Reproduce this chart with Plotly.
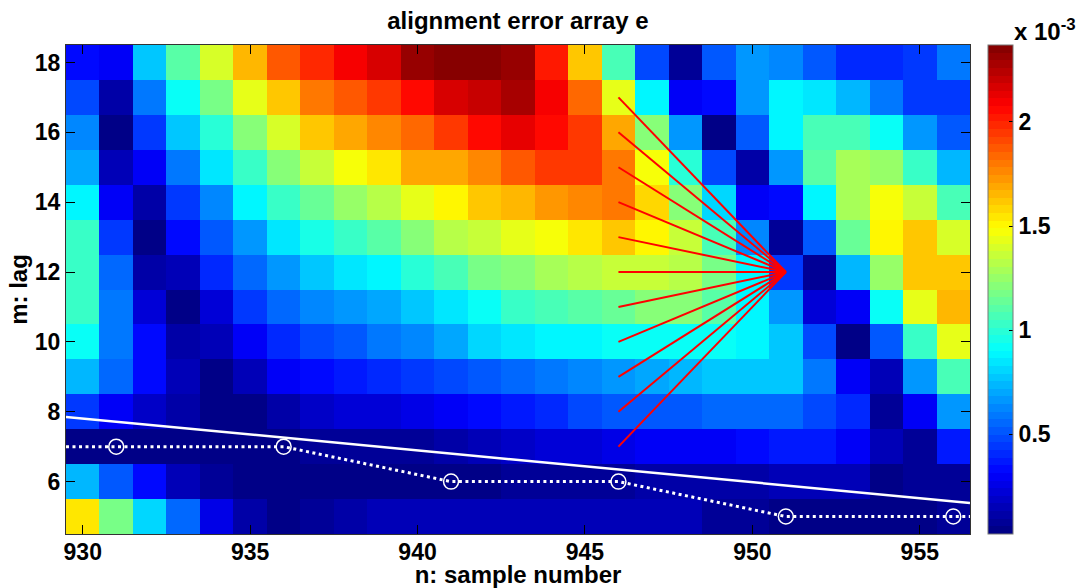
import plotly.graph_objects as go

W, H = 1078, 588
sample_n = list(range(930, 957))
lag_m = list(range(5, 19))

# error values, in units of 1e-3, one list per lag
lag_05 = [1.54,1.19,0.81,0.55,0.26,0.12,0.05,0.09,0.13,0.15,0.16,0.16,0.15,0.15,0.15,0.15,0.15,0.15,0.15,0.09,0.06,0.05,0.05,0.04,0.04,0.05,0.08]
lag_06 = [0.74,0.52,0.33,0.16,0.07,0.05,0.04,0.045,0.045,0.04,0.04,0.045,0.05,0.06,0.08,0.09,0.09,0.12,0.12,0.12,0.13,0.15,0.16,0.15,0.05,0.08,0.09]
lag_07 = [0.03,0.03,0.04,0.05,0.05,0.05,0.05,0.06,0.07,0.09,0.09,0.12,0.15,0.18,0.22,0.24,0.26,0.28,0.30,0.31,0.33,0.37,0.37,0.31,0.15,0.07,0.37]
lag_08 = [0.44,0.30,0.18,0.12,0.05,0.03,0.12,0.18,0.22,0.22,0.26,0.30,0.33,0.37,0.40,0.48,0.52,0.52,0.52,0.55,0.55,0.55,0.48,0.40,0.08,0.30,0.66]
lag_09 = [0.74,0.55,0.33,0.15,0.05,0.15,0.30,0.33,0.37,0.40,0.44,0.48,0.52,0.55,0.59,0.62,0.66,0.70,0.74,0.78,0.78,0.78,0.59,0.30,0.15,0.66,1.07]
lag_10 = [0.93,0.59,0.33,0.12,0.15,0.30,0.40,0.48,0.52,0.59,0.62,0.70,0.81,0.85,0.89,0.89,0.93,0.93,0.93,0.93,0.89,0.78,0.48,0.03,0.52,1.04,1.44]
lag_11 = [1.04,0.59,0.22,0.03,0.22,0.44,0.55,0.62,0.66,0.70,0.78,0.85,0.93,1.04,1.07,1.11,1.15,1.22,1.22,1.11,0.89,0.66,0.22,0.30,0.93,1.44,1.67]
lag_12 = [1.04,0.55,0.13,0.15,0.40,0.55,0.68,0.78,0.85,0.89,1.00,1.07,1.19,1.22,1.30,1.33,1.37,1.37,1.33,1.19,0.89,0.44,0.08,0.74,1.26,1.63,1.63]
lag_13 = [1.04,0.44,0.03,0.33,0.52,0.68,0.85,0.96,1.04,1.11,1.22,1.33,1.37,1.44,1.48,1.56,1.60,1.52,1.37,1.07,0.62,0.07,0.52,1.15,1.52,1.60,1.41]
lag_14 = [0.89,0.30,0.12,0.44,0.62,0.89,1.04,1.15,1.26,1.33,1.44,1.52,1.60,1.67,1.74,1.78,1.80,1.57,1.22,0.81,0.30,0.33,0.89,1.30,1.48,1.37,1.07]
lag_15 = [0.70,0.15,0.30,0.59,0.85,1.04,1.22,1.37,1.48,1.56,1.68,1.70,1.78,1.89,1.93,1.93,1.80,1.48,1.00,0.48,0.12,0.68,1.11,1.30,1.26,1.04,0.74]
lag_16 = [0.63,0.03,0.44,0.78,1.00,1.22,1.41,1.60,1.70,1.78,1.85,1.93,2.04,2.13,2.07,1.96,1.68,1.22,0.66,0.05,0.52,0.89,1.07,1.07,0.93,0.68,0.52]
lag_17 = [0.48,0.12,0.59,0.93,1.19,1.44,1.63,1.81,1.89,1.96,2.07,2.15,2.22,2.28,2.11,1.85,1.44,0.89,0.30,0.33,0.68,0.89,0.85,0.74,0.59,0.44,0.44]
lag_18 = [0.33,0.30,0.78,1.11,1.41,1.66,1.89,2.00,2.10,2.18,2.30,2.37,2.37,2.30,2.03,1.63,1.07,0.48,0.08,0.52,0.68,0.62,0.50,0.40,0.40,0.44,0.59]
error_rows = [lag_05, lag_06, lag_07, lag_08, lag_09, lag_10, lag_11, lag_12,
              lag_13, lag_14, lag_15, lag_16, lag_17, lag_18]

path_n = [931, 936, 941, 946, 951, 956]
path_m = [7, 7, 6, 6, 5, 5]
dotted_n = [929.5, 931, 936, 941, 946, 951, 956, 956.5]
dotted_m = [7, 7, 7, 6, 6, 5, 5, 5]
limit_n = [929.5, 956.5]
limit_m = [7.85, 5.39]
fan_apex_n, fan_apex_m = 951, 12
fan_start_n = 946
fan_start_m = [7, 8, 9, 10, 11, 12, 13, 14, 15, 16, 17]

x_ticks = [930, 935, 940, 945, 950, 955]
y_ticks = [6, 8, 10, 12, 14, 16, 18]
cbar_ticks = [0.5, 1, 1.5, 2]
cbar_labels = ["0.5", "1", "1.5", "2"]
ZMIN, ZMAX = 0.02, 2.37


def jet64():
    def ch(t, centre):
        return max(0.0, min(1.0, 1.5 - abs(4 * t - centre)))
    out = []
    for i in range(64):
        t = (i + 0.5) / 64
        out.append("rgb(%d,%d,%d)" % (round(255 * ch(t, 3)), round(255 * ch(t, 2)), round(255 * ch(t, 1))))
    return out


colors = jet64()
scale = []
for i, c in enumerate(colors):
    scale += [[i / 64, c], [(i + 1) / 64, c]]

FONT = "Liberation Sans"
TICKFONT = dict(family=FONT, size=23, color="#000", weight=700)
L, R, T, B = 66, 970, 45, 534
PW, PH = R - L, B - T

fig = go.Figure()
fig.add_trace(go.Heatmap(
    x=sample_n, y=lag_m, z=error_rows, zmin=ZMIN, zmax=ZMAX, colorscale=scale,
    colorbar=dict(
        thickness=25, thicknessmode="pixels", len=1, lenmode="fraction",
        x=(988 - L) / PW, xanchor="left", y=0, yanchor="bottom", xpad=0, ypad=0,
        outlinecolor="#777", outlinewidth=1,
        tickmode="array", tickvals=cbar_ticks, ticktext=cbar_labels,
        ticks="inside", ticklen=4, tickcolor="#000", tickwidth=1,
        tickfont=TICKFONT,
    ),
))
for m in fan_start_m:
    fig.add_trace(go.Scatter(x=[fan_start_n, fan_apex_n], y=[m, fan_apex_m], mode="lines",
                             line=dict(color="#f00", width=2), showlegend=False, hoverinfo="skip"))
fig.add_trace(go.Scatter(x=limit_n, y=limit_m, mode="lines",
                         line=dict(color="#fff", width=2.5), showlegend=False))
fig.add_trace(go.Scatter(x=dotted_n, y=dotted_m, mode="lines",
                         line=dict(color="#fff", width=3, dash="3px,3.5px"), showlegend=False))
fig.add_trace(go.Scatter(x=path_n, y=path_m, mode="markers",
                         marker=dict(symbol="circle-open", size=15, color="#fff", line=dict(color="#fff", width=1.5)),
                         showlegend=False))

# short left-hand ticks of the colour bar
shapes = []
for v in cbar_ticks:
    yp = (v - ZMIN) / (ZMAX - ZMIN)
    shapes.append(dict(type="line", xref="paper", yref="paper", x0=(988 - L) / PW, x1=(992 - L) / PW, y0=yp, y1=yp,
                       line=dict(color="#000", width=1)))

fig.update_layout(
    width=W, height=H, autosize=False,
    margin=dict(l=L, r=W - R, t=T, b=H - B),
    paper_bgcolor="#fff", plot_bgcolor="#fff",
    showlegend=False, shapes=shapes,
    title=dict(text="alignment error array e", x=518 / W, xanchor="center", y=1 - 21 / H, yanchor="middle",
               font=dict(family=FONT, size=24, color="#000", weight=700)),
    xaxis=dict(range=[929.5, 956.5], tickmode="array", tickvals=x_ticks,
               ticks="inside", ticklen=9, tickcolor="#000", tickwidth=1, showgrid=False, zeroline=False,
               showline=True, linecolor="#333", linewidth=1, mirror="ticks", tickfont=TICKFONT,
               ticklabelstandoff=-3, automargin=False,
               title=dict(text="n: sample number",
                          font=dict(family=FONT, size=24, color="#000", weight=700))),
    yaxis=dict(range=[4.5, 18.5], tickmode="array", tickvals=y_ticks,
               ticks="inside", ticklen=9, tickcolor="#000", tickwidth=1, showgrid=False, zeroline=False,
               showline=True, linecolor="#333", linewidth=1, mirror="ticks", tickfont=TICKFONT,
               automargin=True,
               title=dict(text="m: lag", standoff=0,
                          font=dict(family=FONT, size=24, color="#000", weight=700))),
    annotations=[dict(text="x 10<sup>-3</sup>", xref="paper", yref="paper", x=(1012 - L) / PW, y=(B - 30) / PH,
                      xanchor="left", yanchor="middle", showarrow=False,
                      font=dict(family=FONT, size=24, color="#000", weight=700))],
)

fig.write_html("out.html", post_script="document.body.style.margin='0';",
               config={"displayModeBar": False})
